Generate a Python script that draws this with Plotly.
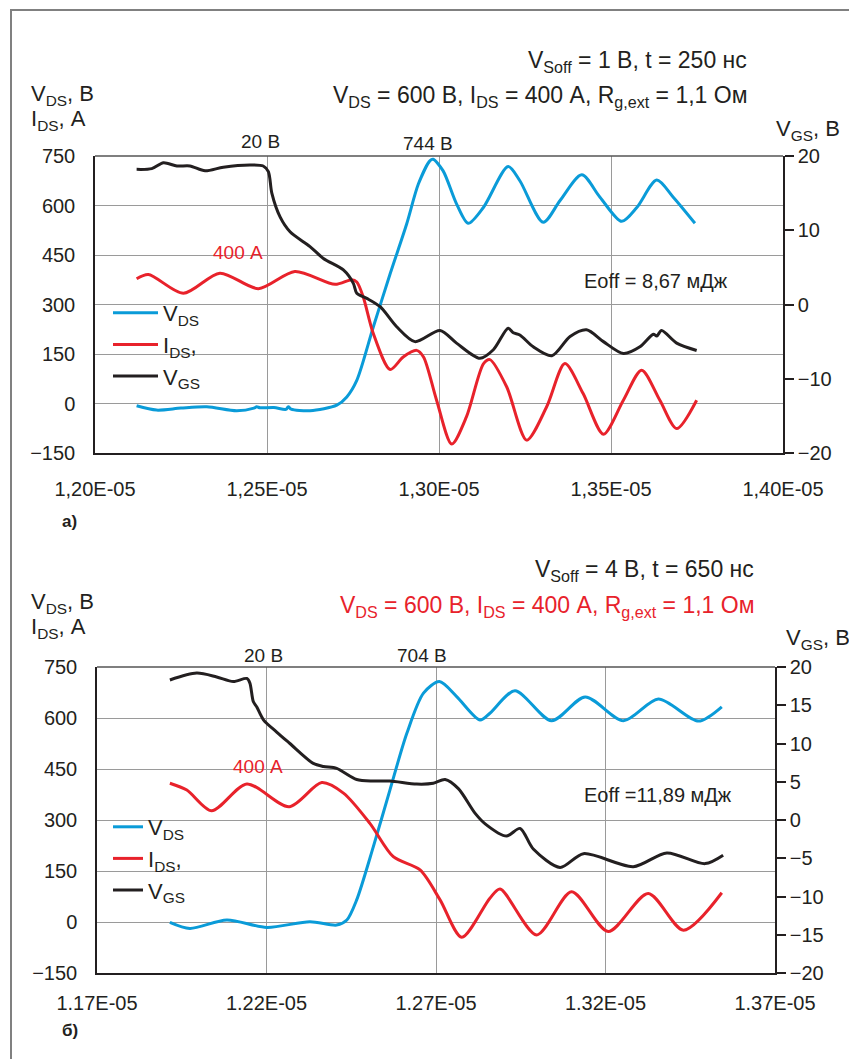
import plotly.graph_objects as go

# ---------------- Panel a) ----------------
t_vds_a = [12.121, 12.179, 12.250, 12.325, 12.412, 12.462, 12.470, 12.480, 12.520, 12.555, 12.562, 12.570,
           12.625, 12.703, 12.732, 12.761, 12.809, 12.858, 12.906, 12.940, 12.974, 12.983, 13.012, 13.051,
           13.085, 13.129, 13.201, 13.235, 13.303, 13.352, 13.415, 13.468, 13.531, 13.575, 13.633, 13.681, 13.744]
vds_a = [-7, -20, -14, -10, -22, -14, -10, -13, -12, -18, -10, -17,
         -22, -5, 20, 70, 232, 393, 544, 665, 736, 740, 705, 605,
         546, 594, 718, 675, 549, 615, 693, 625, 552, 594, 677, 625, 546]

t_ids_a = [12.121, 12.155, 12.257, 12.363, 12.475, 12.581, 12.698, 12.746, 12.761, 12.780, 12.809, 12.858,
           12.896, 12.935, 12.955, 12.993, 13.037, 13.080, 13.129, 13.148, 13.197, 13.255, 13.313, 13.366,
           13.419, 13.478, 13.536, 13.589, 13.642, 13.691, 13.749]
ids_a = [378, 391, 334, 395, 348, 400, 361, 375, 368, 322, 212, 103,
         141, 161, 141, 10, -123, -40, 120, 133, 50, -111, -10, 121,
         30, -93, 10, 101, 10, -76, 10]

t_vgs_a = [12.121, 12.165, 12.199, 12.238, 12.276, 12.320, 12.373, 12.451, 12.489, 12.504, 12.514, 12.538,
           12.567, 12.625, 12.664, 12.722, 12.751, 12.761, 12.790, 12.829, 12.877, 12.930, 13.003, 13.051,
           13.119, 13.158, 13.201, 13.216, 13.235, 13.274, 13.328, 13.381, 13.429, 13.478, 13.536, 13.584,
           13.623, 13.633, 13.647, 13.691, 13.749]
vgs_a = [18.2, 18.3, 19.1, 18.65, 18.65, 18.0, 18.5, 18.8, 18.65, 17.9, 15.0, 11.8,
         9.8, 7.8, 6.2, 4.65, 2.85, 1.5, 0.83, -0.3, -3.0, -5.0, -3.5, -5.2,
         -7.25, -6.1, -3.2, -3.8, -4.1, -5.7, -6.9, -4.3, -3.4, -5.0, -6.6, -5.7,
         -4.0, -4.25, -3.5, -5.2, -6.2]

xtick_a = [12.0, 12.5, 13.0, 13.5, 14.0]
xtext_a = ["1,20E-05", "1,25E-05", "1,30E-05", "1,35E-05", "1,40E-05"]

# ---------------- Panel б) ----------------
t_vds_b = [11.915, 11.974, 12.083, 12.201, 12.328, 12.407, 12.437, 12.466, 12.515, 12.564, 12.614, 12.663,
           12.710, 12.761, 12.830, 12.859, 12.933, 13.041, 13.140, 13.253, 13.356, 13.474, 13.543]
vds_b = [-1, -19, 6, -16, 1, -9, 6, 65, 221, 388, 555, 673,
         707, 663, 594, 614, 680, 592, 662, 592, 656, 591, 633]

t_ids_b = [11.915, 11.965, 12.038, 12.142, 12.267, 12.363, 12.427, 12.505, 12.574, 12.653, 12.712, 12.776,
           12.859, 12.889, 12.997, 13.100, 13.208, 13.326, 13.430, 13.543]
ids_b = [408, 388, 327, 406, 339, 410, 379, 290, 192, 153, 65, -45,
         70, 97, -38, 89, -28, 84, -24, 86]

t_vgs_b = [11.915, 11.994, 12.053, 12.102, 12.142, 12.151, 12.161, 12.171, 12.191, 12.230, 12.269, 12.338,
           12.368, 12.407, 12.466, 12.515, 12.564, 12.643, 12.692, 12.727, 12.766, 12.815, 12.845, 12.908,
           12.948, 12.987, 13.066, 13.135, 13.282, 13.381, 13.494, 13.547]
vgs_b = [18.3, 19.2, 18.7, 18.1, 18.5, 17.9, 15.5, 14.8, 13.1, 11.5, 10.0, 7.4,
         7.0, 6.75, 5.3, 5.1, 5.1, 4.7, 4.8, 5.3, 4.1, 0.9, -0.5, -2.1,
         -1.1, -3.8, -6.2, -4.4, -6.1, -4.3, -5.7, -4.6]

xtick_b = [11.7, 12.2, 12.7, 13.2, 13.7]
xtext_b = ["1.17E-05", "1.22E-05", "1.27E-05", "1.32E-05", "1.37E-05"]

left_ticks = [-150, 0, 150, 300, 450, 600, 750]
right_ticks_a = [-20, -10, 0, 10, 20]
right_ticks_b = [-20, -15, -10, -5, 0, 5, 10, 15, 20]

BLUE = "#0a9bd8"
RED = "#e8222b"
BLACK = "#231f20"
NARROW = "Liberation Sans Narrow, Arial Narrow, Liberation Sans, Arial, sans-serif"
REG = "Liberation Sans, Arial, sans-serif"

# the page body has an 8 px margin, so the figure is offset by 8 px
OFF = 8
W, H = 857 - OFF, 1059 - OFF

def px(x):
    return (x - OFF) / W

def py(y):
    return 1 - (y - OFF) / H

fig = go.Figure()
LW = 3
SM = 0.8
fig.add_trace(go.Scatter(x=t_vds_a, y=vds_a, mode="lines", line=dict(color=BLUE, width=LW, shape="spline", smoothing=SM),
                         name="V<sub>DS</sub>", xaxis="x", yaxis="y", legend="legend"))
fig.add_trace(go.Scatter(x=t_ids_a, y=ids_a, mode="lines", line=dict(color=RED, width=LW, shape="spline", smoothing=SM),
                         name="I<sub>DS</sub>,", xaxis="x", yaxis="y", legend="legend"))
fig.add_trace(go.Scatter(x=t_vgs_a, y=vgs_a, mode="lines", line=dict(color=BLACK, width=LW, shape="spline", smoothing=SM),
                         name="V<sub>GS</sub>", xaxis="x", yaxis="y2", legend="legend"))

fig.add_trace(go.Scatter(x=t_vds_b, y=vds_b, mode="lines", line=dict(color=BLUE, width=LW, shape="spline", smoothing=SM),
                         name="V<sub>DS</sub>", xaxis="x2", yaxis="y3", legend="legend2"))
fig.add_trace(go.Scatter(x=t_ids_b, y=ids_b, mode="lines", line=dict(color=RED, width=LW, shape="spline", smoothing=SM),
                         name="I<sub>DS</sub>,", xaxis="x2", yaxis="y3", legend="legend2"))
fig.add_trace(go.Scatter(x=t_vgs_b, y=vgs_b, mode="lines", line=dict(color=BLACK, width=LW, shape="spline", smoothing=SM),
                         name="V<sub>GS</sub>", xaxis="x2", yaxis="y4", legend="legend2"))

GRID = "#9a9a9a"
tickfont = dict(family=NARROW, size=20, color="#231f20")

def xaxis(dom, anchor, vals, text, standoff):
    return dict(domain=dom, anchor=anchor, range=[vals[0], vals[-1]], tickvals=vals, ticktext=text,
                showgrid=True, gridcolor=GRID, gridwidth=1, showline=True, linecolor="#231f20", linewidth=1.5,
                mirror=False, ticks="", ticklabelstandoff=standoff, tickfont=tickfont, zeroline=False,
                automargin=False)

def yleft(dom, anchor):
    return dict(domain=dom, anchor=anchor, range=[-150, 750], tickvals=left_ticks,
                showgrid=True, gridcolor=GRID, gridwidth=1, showline=True, linecolor="#231f20", linewidth=1.5,
                mirror=False, ticks="", ticklabelstandoff=14, tickfont=tickfont, zeroline=False,
                automargin=False)

def yright(overlay, anchor, vals):
    return dict(overlaying=overlay, anchor=anchor, side="right", range=[-20, 20], tickvals=vals,
                showgrid=False, showline=True, linecolor="#231f20", linewidth=1.5, ticks="outside",
                ticklen=9, tickwidth=1.5, tickcolor="#231f20", tickfont=tickfont, zeroline=False,
                automargin=False)

dom_xa = [px(95), px(783)]
dom_ya = [py(453), py(156)]
dom_xb = [px(97), px(775)]
dom_yb = [py(973), py(667)]

legfont = dict(family=REG, size=22, color="#231f20")

fig.update_layout(
    width=W, height=H, margin=dict(l=0, r=0, t=0, b=0, autoexpand=False),
    paper_bgcolor="white", plot_bgcolor="white",
    font=dict(family=REG, color="#231f20"),
    xaxis=xaxis(dom_xa, "y", xtick_a, xtext_a, 17),
    yaxis=yleft(dom_ya, "x"),
    yaxis2=yright("y", "x", right_ticks_a),
    xaxis2=xaxis(dom_xb, "y3", xtick_b, xtext_b, 11),
    yaxis3=yleft(dom_yb, "x2"),
    yaxis4=yright("y3", "x2", right_ticks_b),
    legend=dict(x=px(108), y=py(292), xanchor="left", yanchor="top", bgcolor="rgba(0,0,0,0)",
                font=legfont, tracegroupgap=0, itemwidth=45),
    legend2=dict(x=px(108), y=py(806), xanchor="left", yanchor="top", bgcolor="rgba(0,0,0,0)",
                 font=legfont, tracegroupgap=0, itemwidth=30),
    showlegend=True,
)

# plot-area top border lines
for xd, yd in (("x domain", "y domain"), ("x2 domain", "y3 domain")):
    fig.add_shape(type="line", xref=xd, yref=yd, x0=0, x1=1, y0=1, y1=1, line=dict(color="#555555", width=1.5))

# outer frame
fig.add_shape(type="rect", xref="paper", yref="paper", x0=px(11), x1=px(856), y0=-0.02, y1=py(10),
              line=dict(color="#808080", width=2), layer="above")

def ann(text, x, y, xanchor="left", size=22, color="#231f20", family=NARROW):
    fig.add_annotation(text=text, x=px(x), y=py(y), xref="paper", yref="paper", xanchor=xanchor,
                       yanchor="middle", showarrow=False, font=dict(family=family, size=size, color=color))

# panel a texts
ann("V<sub>Soff</sub> = 1 В, t = 250 нс", 749, 61, "right", size=23)
ann("V<sub>DS</sub> = 600 В, I<sub>DS</sub> = 400 А, R<sub>g,ext</sub> = 1,1 Ом", 749, 97, "right", size=23)
ann("V<sub>DS</sub>, В", 29, 95, size=22)
ann("I<sub>DS</sub>, А", 29, 120, size=22)
ann("V<sub>GS</sub>, В", 842, 130, "right", size=22)
ann("20 В", 260, 141, "center", size=19)
ann("744 В", 428, 143, "center", size=19)
ann("400 А", 238, 253, "center", size=19, color=RED, family=REG)
ann("Eoff = 8,67 мДж", 582, 281, "left", size=20, family=REG)
ann("<b>а)</b>", 60, 521, "left", size=17)

# panel b texts
ann("V<sub>Soff</sub> = 4 В, t = 650 нс", 756, 570, "right", size=23)
ann("V<sub>DS</sub> = 600 В, I<sub>DS</sub> = 400 А, R<sub>g,ext</sub> = 1,1 Ом", 756, 606, "right", size=23, color=RED)
ann("V<sub>DS</sub>, В", 29, 603, size=22)
ann("I<sub>DS</sub>, А", 29, 628, size=22)
ann("V<sub>GS</sub>, В", 852, 639, "right", size=22)
ann("20 В", 263, 655, "center", size=19)
ann("704 В", 422, 655, "center", size=19)
ann("400 А", 258, 766, "center", size=19, color=RED, family=REG)
ann("Eoff =11,89 мДж", 582, 795, "left", size=20, family=REG)
ann("<b>б)</b>", 60, 1030, "left", size=17)

fig.write_html("out.html")
